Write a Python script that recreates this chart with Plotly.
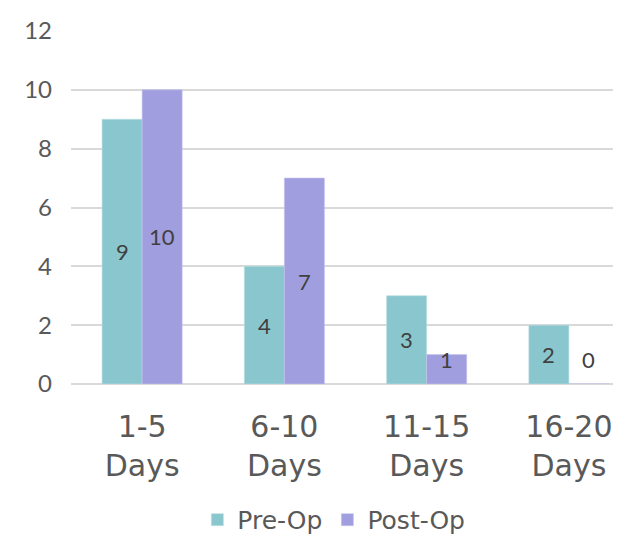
import plotly.graph_objects as go

categories = ["1-5<br>Days", "6-10<br>Days", "11-15<br>Days", "16-20<br>Days"]
pre_op = [9, 4, 3, 2]
post_op = [10, 7, 1, 0]
y_ticks = [0, 2, 4, 6, 8, 10, 12]

TEAL = "#8AC6CD"
PURPLE = "#A09EDE"
LABEL_FONT = dict(family="Lato, 'Open Sans', sans-serif", size=22, color="#404040")

fig = go.Figure()
fig.add_trace(go.Bar(name="Pre-Op", x=categories, y=pre_op, marker_color=TEAL,
                     marker_line=dict(color="#B9DFE3", width=0.6)))
fig.add_trace(go.Bar(name="Post-Op", x=categories, y=post_op, marker_color=PURPLE,
                     marker_line=dict(color="#C4C3EC", width=0.6)))

# value labels centred in each bar (lifted a little for very short bars)
for i, cat in enumerate(categories):
    for vals, shift in ((pre_op, -20), (post_op, 20)):
        v = vals[i]
        fig.add_annotation(x=cat, y=max(v / 2, 0.85), text=str(v), showarrow=False,
                           xshift=shift, font=LABEL_FONT, xanchor="center", yanchor="middle")

fig.update_layout(
    width=623, height=539,
    margin=dict(l=71, r=10, t=31, b=155, autoexpand=False),
    plot_bgcolor="white", paper_bgcolor="white",
    barmode="group", bargap=0.437, bargroupgap=0,
    showlegend=True,
    legend=dict(orientation="h", x=0.485, xanchor="center", y=-0.385, yanchor="middle",
                font=dict(family="DejaVu Sans, Verdana, sans-serif", size=25, color="#595959"),
                itemwidth=30, traceorder="normal", bgcolor="rgba(0,0,0,0)"),
)
fig.update_xaxes(range=[-0.5, 3.31], showgrid=False, showline=False, ticks="",
                 automargin=False,
                 tickfont=dict(family="DejaVu Sans, Verdana, sans-serif", size=30, color="#595959"),
                 ticklabelstandoff=22)
fig.update_yaxes(range=[0, 12], tickvals=y_ticks, showgrid=True, gridcolor="#D9D9D9",
                 gridwidth=1.5, zeroline=True, zerolinecolor="#D9D9D9", zerolinewidth=1.5,
                 showline=False, ticks="", automargin=False,
                 tickfont=dict(family="Lato, 'Open Sans', sans-serif", size=24, color="#595959"),
                 ticklabelstandoff=18)

fig.write_html("out.html")
